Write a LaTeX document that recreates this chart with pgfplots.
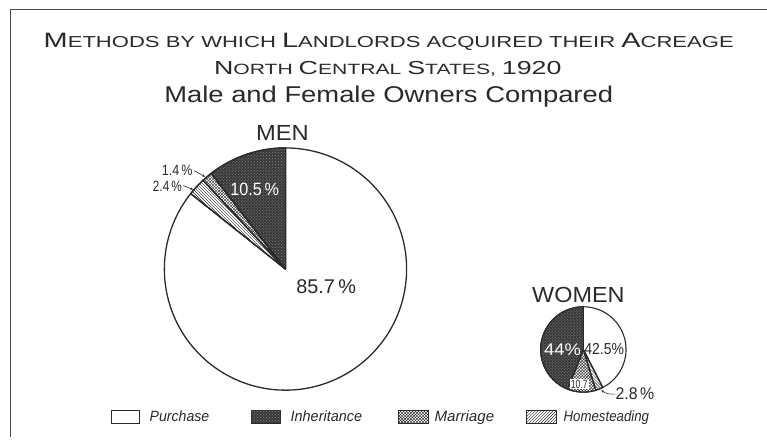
\documentclass[border=0pt]{standalone}
\usepackage{pgfplots}
\pgfplotsset{compat=1.18}
\usepackage{pgfplotstable}
\usepgfplotslibrary{polar}
\usetikzlibrary{patterns,arrows.meta}
\usepackage{fontspec}
\setmainfont{Liberation Sans}
\usepackage{graphicx}

\definecolor{ink}{HTML}{2A2A2A}

\pgfplotstableread{
method pct
Purchase 85.7
Homesteading 2.4
Marriage 1.4
Inheritance 10.5
}\mentab
\pgfplotstableread{
method pct
Purchase 42.5
Homesteading 2.8
Marriage 10.7
Inheritance 44.0
}\womentab

\newsavebox\fitbox
\newcommand\fitw[2]{\sbox\fitbox{#2}\pgfmathsetmacro\fitsx{#1/\the\wd\fitbox}\scalebox{\fitsx}[1]{\usebox\fitbox}}

\newcommand\getang[2]{%
  \pgfplotstablegetelem{0}{pct}\of#1\pgfmathsetmacro\tmpa{90-3.6*\pgfplotsretval}\expandafter\xdef\csname #2Ps\endcsname{\tmpa}%
  \pgfplotstablegetelem{1}{pct}\of#1\pgfmathsetmacro\tmpb{\tmpa-3.6*\pgfplotsretval}\expandafter\xdef\csname #2Hs\endcsname{\tmpb}%
  \pgfplotstablegetelem{2}{pct}\of#1\pgfmathsetmacro\tmpc{\tmpb-3.6*\pgfplotsretval}\expandafter\xdef\csname #2Ms\endcsname{\tmpc}%
  \pgfplotstablegetelem{3}{pct}\of#1\pgfmathsetmacro\tmpd{\tmpc-3.6*\pgfplotsretval}\expandafter\xdef\csname #2Is\endcsname{\tmpd}%
}

\pgfplotsset{
  piebase/.style={line width=1.3pt, draw=ink, line join=round},
  purch/.style={piebase, fill=white},
  inher/.style={piebase, fill=black!78, postaction={pattern=crosshatch dots, pattern color=black!45}},
  marr/.style={piebase, fill=white, postaction={pattern=crosshatch, pattern color=ink}},
  home/.style={piebase, fill=white, postaction={pattern=north west lines, pattern color=ink}},
}

\begin{document}
\getang{\mentab}{m}
\getang{\womentab}{w}
\begin{tikzpicture}[every node/.style={text=ink, inner sep=0pt}]
\useasboundingbox (0,0) rectangle (767pt,-443pt);
\fill[white] (0,0) rectangle (767pt,-443pt);
\draw[black!70, line width=1pt] (5pt,-440pt) -- (5pt,-9.5pt) -- (767pt,-9.5pt);

% MEN pie
\begin{polaraxis}[at={(282pt,-271pt)}, anchor=center, width=244pt, height=244pt,
  scale only axis, hide axis, xmin=0, xmax=360, ymin=0, ymax=1, clip=false]
\addplot[purch, domain=\mPs:90, samples=150] {1} -- (axis cs:0,0) -- cycle;
\addplot[home, domain=\mHs:\mPs, samples=10] {1} -- (axis cs:0,0) -- cycle;
\addplot[marr, domain=\mMs:\mHs, samples=10] {1} -- (axis cs:0,0) -- cycle;
\addplot[inher, domain=\mIs:\mMs, samples=30] {1} -- (axis cs:0,0) -- cycle;
\end{polaraxis}

% WOMEN pie
\begin{polaraxis}[at={(582pt,-352pt)}, anchor=center, width=86pt, height=86pt,
  scale only axis, hide axis, xmin=0, xmax=360, ymin=0, ymax=1, clip=false]
\addplot[purch, line width=1.1pt, domain=\wPs:90, samples=60] {1} -- (axis cs:0,0) -- cycle;
\addplot[home, line width=1.1pt, domain=\wHs:\wPs, samples=10] {1} -- (axis cs:0,0) -- cycle;
\addplot[marr, line width=1.1pt, domain=\wMs:\wHs, samples=20] {1} -- (axis cs:0,0) -- cycle;
\addplot[inher, line width=1.1pt, domain=\wIs:\wMs, samples=60] {1} -- (axis cs:0,0) -- cycle;
\end{polaraxis}

% Titles
\newcommand\Tb{\fontsize{21}{21}\selectfont}
\newcommand\Ts{\fontsize{16}{16}\selectfont}
\newcommand\Sb{\fontsize{19}{19}\selectfont}
\newcommand\Ss{\fontsize{15}{15}\selectfont}
\node[anchor=base] at (386pt,-48pt) {\fitw{695}{{\Tb M}{\Ts ETHODS BY WHICH }{\Tb L}{\Ts ANDLORDS ACQUIRED THEIR }{\Tb A}{\Ts CREAGE}}};
\node[anchor=base] at (385pt,-75pt) {\fitw{350}{{\Sb N}{\Ss ORTH }{\Sb C}{\Ss ENTRAL }{\Sb S}{\Ss TATES, }{\Sb 1920}}};
\node[anchor=base] at (386pt,-103pt) {\fitw{452}{\fontsize{23}{23}\selectfont Male and Female Owners Compared}};

% Pie labels
\node[anchor=base] at (279pt,-142pt) {\fitw{53}{\fontsize{22}{22}\selectfont MEN}};
\node[anchor=base] at (577pt,-305pt) {\fitw{93}{\fontsize{22}{22}\selectfont WOMEN}};
\node[anchor=base] at (323pt,-296pt) {\fitw{60}{\fontsize{20}{20}\selectfont 85.7\,\%}};
\node[anchor=base, text=white] at (251pt,-197pt) {\fitw{49}{\fontsize{18}{18}\selectfont 10.5\,\%}};
\node[anchor=base] at (173pt,-177pt) {\fitw{31}{\fontsize{15}{15}\selectfont 1.4\,\%}};
\node[anchor=base] at (163pt,-193pt) {\fitw{29}{\fontsize{15}{15}\selectfont 2.4\,\%}};
\draw[ink, line width=0.6pt, -{Stealth[length=3pt,width=2.5pt]}] (190pt,-172pt) -- (201pt,-178pt);
\draw[ink, line width=0.6pt, -{Stealth[length=3pt,width=2.5pt]}] (179pt,-187pt) -- (189pt,-191pt);

\node[anchor=base, text=white] at (561pt,-358pt) {\fitw{37}{\fontsize{17}{17}\selectfont 44\%}};
\node[anchor=base] at (603pt,-357pt) {\fitw{40}{\fontsize{16}{16}\selectfont 42.5\%}};
\node[anchor=base, fill=white, inner sep=0.8pt] at (578pt,-391pt) {\fitw{17}{\fontsize{12}{12}\selectfont 10.7}};
\node[anchor=base] at (634pt,-402pt) {\fitw{39}{\fontsize{17}{17}\selectfont 2.8\,\%}};
\draw[ink, line width=0.6pt, -{Stealth[length=3pt,width=2.5pt]}] (614pt,-397pt) to[bend left=20] (600pt,-393pt);

% Legend
\newcommand\Lf{\fontsize{15}{15}\selectfont\itshape}
\draw[ink, line width=0.8pt, fill=white] (107pt,-413pt) rectangle (135pt,-426pt);
\node[anchor=base west] at (145pt,-425pt) {\fitw{60}{\Lf Purchase}};
\draw[ink, line width=0.8pt, fill=black!78, postaction={pattern=crosshatch dots, pattern color=black!45}] (248pt,-413pt) rectangle (277pt,-426pt);
\node[anchor=base west] at (287pt,-425pt) {\fitw{72}{\Lf Inheritance}};
\draw[ink, line width=0.8pt, fill=white, postaction={pattern=crosshatch, pattern color=ink}] (396pt,-413pt) rectangle (426pt,-426pt);
\node[anchor=base west] at (432pt,-425pt) {\fitw{60}{\Lf Marriage}};
\draw[ink, line width=0.8pt, fill=white, postaction={pattern=north east lines, pattern color=ink}] (525pt,-413pt) rectangle (555pt,-426pt);
\node[anchor=base west] at (562pt,-425pt) {\fitw{86}{\Lf Homesteading}};
\end{tikzpicture}
\end{document}
